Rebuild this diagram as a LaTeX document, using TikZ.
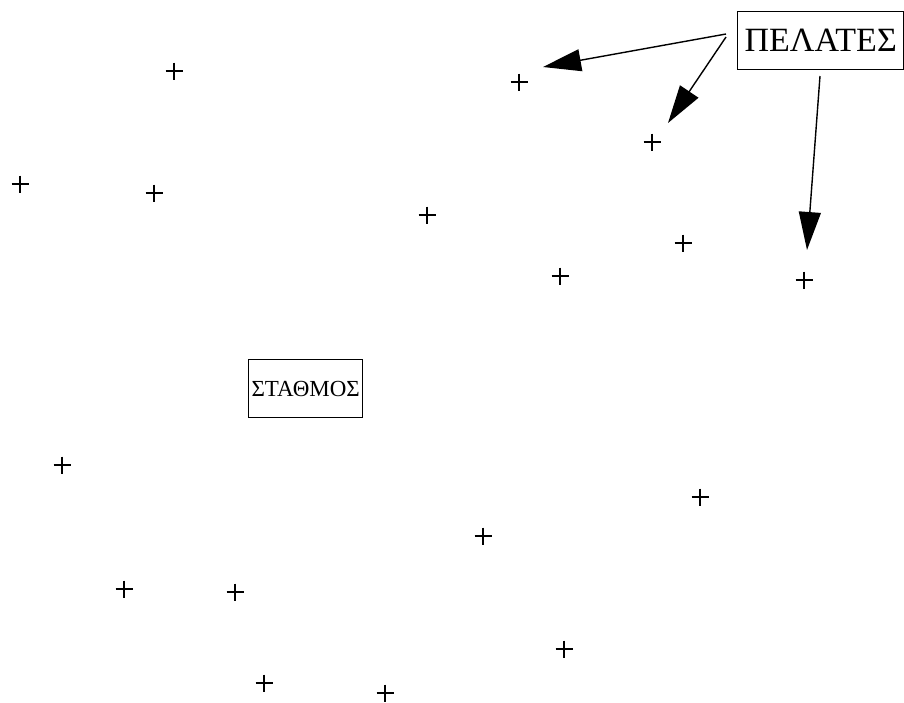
\documentclass[tikz,border=0pt]{standalone}
\usepackage{fontspec}
\setmainfont{Liberation Serif}
\usetikzlibrary{arrows.meta}
\begin{document}
\begin{tikzpicture}[x=1pt,y=-1pt,
  labelbox/.style={draw,line width=1.4pt,inner sep=0pt,anchor=north west},
  conn/.style={line width=1.4pt,-{Triangle[length=38pt,width=22pt]}},
  plus/.pic={\draw[line width=1.5pt] (-8.5,0) -- (8.5,0) (0,-8.5) -- (0,8.5);}]
\useasboundingbox (0,0) rectangle (904,702);
% boxes
\node[labelbox,minimum width=166pt,minimum height=58pt,font=\fontsize{34}{34}\selectfont] (pel) at (737,11) {ΠΕΛΑΤΕΣ};
\node[labelbox,minimum width=114pt,minimum height=58pt,font=\fontsize{23}{23}\selectfont] (sta) at (248,359) {ΣΤΑΘΜΟΣ};
% crosses
\foreach \px/\py [count=\i] in {174/71,519/82,652/142,20/184,154/193,427/215,683/243,560/276,804/280,62/465,700/497,483/536,124/589,235/592,564/649,264/683,385/693}
  \pic (c\i) at (\px,\py) {plus};
% arrow ends
\coordinate (s1) at (726,34);
\coordinate (s2) at (726,37);
\coordinate (s3) at (820,76);
\coordinate (t1) at (543,67);
\coordinate (t2) at (668,123);
\coordinate (t3) at (807,250);
\draw[conn] (s1) -- (t1);
\draw[conn] (s2) -- (t2);
\draw[conn] (s3) -- (t3);
\end{tikzpicture}
\end{document}
